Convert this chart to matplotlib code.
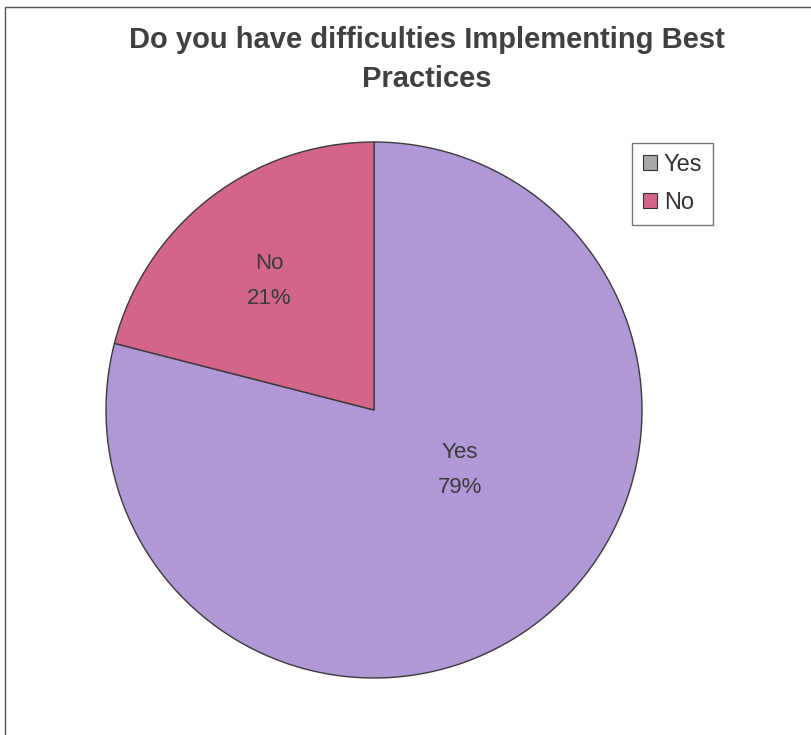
import numpy as np
import matplotlib
matplotlib.use("Agg")
import matplotlib.pyplot as plt
from matplotlib.patches import Rectangle

categories = ["Yes", "No"]
values = [79, 21]
slice_colors = ["#B097D5", "#D3658A"]
legend_colors = ["#A8A8A8", "#D3658A"]
title = "Do you have difficulties Implementing Best\nPractices"

W, H = 811, 735
fig = plt.figure(figsize=(W / 100, H / 100), dpi=100)
ax = fig.add_axes([0, 0, 1, 1])
ax.set_xlim(0, W)
ax.set_ylim(0, H)
ax.set_aspect("equal")
ax.axis("off")

font = "Liberation Sans"

# outer frame (cut off at right/bottom as in the reference)
ax.add_patch(Rectangle((4.5, -20), W + 40, H - 7 + 20, fill=False,
                       edgecolor="#555555", linewidth=1.0))

cx, cy, R = 374, H - 410, 268
wedges, _ = ax.pie(values, colors=slice_colors, startangle=90, counterclock=False,
                   center=(cx, cy), radius=R,
                   wedgeprops=dict(edgecolor="#3a3a3a", linewidth=1.0))
ax.set_xlim(0, W)
ax.set_ylim(0, H)
ax.set_aspect("equal")

# data labels
label_pos = {"Yes": (0.39, -35.0), "No": (0.62, 129.0)}
for w, cat, v in zip(wedges, categories, values):
    r, ang = label_pos[cat]
    x = cx + r * R * np.cos(np.radians(ang))
    y = cy + r * R * np.sin(np.radians(ang))
    ax.text(x, y, f"{cat}\n{v}%", ha="center", va="center", fontsize=16,
            family=font, color="#3a3a3a", linespacing=1.9)

ax.text(427, H - 59, title, ha="center", va="center", fontsize=21,
        fontweight="bold", family=font, color="#404040", linespacing=1.5)

# legend
handles = [Rectangle((0, 0), 1, 1, facecolor=c, edgecolor="#333333", linewidth=0.8)
           for c in legend_colors]
leg = ax.legend(handles, categories, loc="upper left",
                bbox_to_anchor=(632 / W, 1 - 143 / H), frameon=True,
                prop=dict(family=font, size=17), handlelength=0.6, handleheight=0.6,
                handletextpad=0.3, borderpad=0.45, labelspacing=0.7, fancybox=False,
                borderaxespad=0)
leg.get_frame().set_edgecolor("#555555")
leg.get_frame().set_linewidth(1.0)
for t in leg.get_texts():
    t.set_color("#333333")

fig.savefig("out.png", dpi=100, facecolor="white")
